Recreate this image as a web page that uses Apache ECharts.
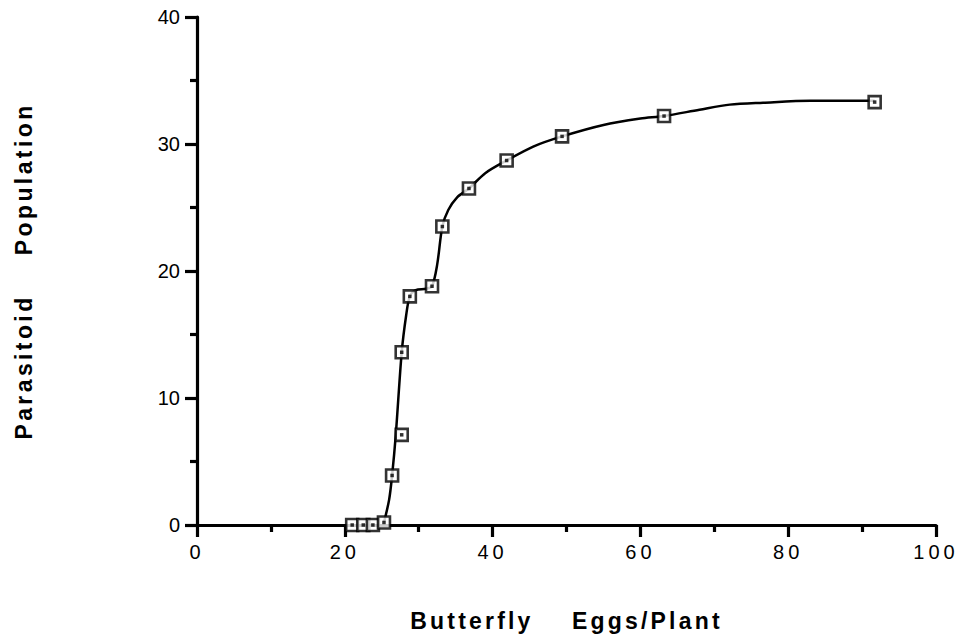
<!DOCTYPE html>
<html>
<head>
<meta charset="utf-8">
<script src="https://cdn.jsdelivr.net/npm/echarts@6/dist/echarts.min.js"></script>
<style>html,body{margin:0;padding:0;background:#fff}#c{width:961px;height:637px}</style>
</head>
<body>
<div id="c"></div>
<script>
// Observed data points (Butterfly eggs/plant, Parasitoid population)
var eggs = [21.0, 22.5, 23.8, 25.3, 26.4, 27.7, 27.7, 28.8, 31.8, 33.2, 36.8, 41.9, 49.4, 63.2, 91.7];
var parasitoids = [0, 0, 0, 0.2, 3.9, 7.1, 13.6, 18.0, 18.8, 23.5, 26.5, 28.7, 30.6, 32.2, 33.3];
// Fitted curve
var curveX = [25.3, 26.0, 26.4, 26.9, 27.7, 28.3, 28.8, 29.6, 31.0, 31.8, 32.5, 33.2, 34.0, 35.2, 36.8, 39.0, 41.9, 45.5, 49.4, 55.0, 60.0, 63.2, 68.0, 72.1, 76.6, 83.0, 91.7];
var curveY = [0.2, 2.0, 3.9, 7.1, 13.6, 16.5, 18.0, 18.5, 18.6, 18.8, 20.5, 23.5, 24.8, 25.8, 26.5, 27.7, 28.7, 29.8, 30.6, 31.5, 32.0, 32.2, 32.7, 33.1, 33.25, 33.4, 33.4];
var xTicks = [0, 20, 40, 60, 80, 100];
var yTicks = [0, 10, 20, 30, 40];
var xTitle = 'Butterfly    Eggs/Plant';
var yTitle = 'Parasitoid    Population';

var pts = eggs.map(function (x, i) { return [x, parasitoids[i]]; });
var curve = curveX.map(function (x, i) { return [x, curveY[i]]; });

var FONT = 'Liberation Sans, Arial, sans-serif';
var chart = echarts.init(document.getElementById('c'), null, { renderer: 'svg' });
var lw = 3.2;
chart.setOption({
  animation: false,
  backgroundColor: '#fff',
  grid: { left: 197, right: 25, top: 17, bottom: 112, containLabel: false },
  xAxis: {
    type: 'value', min: xTicks[0], max: xTicks[xTicks.length - 1], interval: 20,
    axisLine: { show: true, onZero: false, lineStyle: { color: '#000', width: lw } },
    axisTick: { show: true, length: 12, lineStyle: { color: '#000', width: lw } },
    minorTick: { show: true, splitNumber: 2, length: 7, lineStyle: { color: '#000', width: lw } },
    splitLine: { show: false },
    axisLabel: { color: '#000', fontSize: 20, fontFamily: FONT, margin: 17 },
    name: xTitle, nameLocation: 'middle', nameGap: 84,
    nameTextStyle: { color: '#000', fontSize: 23, fontWeight: 'bold', fontFamily: FONT }
  },
  yAxis: {
    type: 'value', min: yTicks[0], max: yTicks[yTicks.length - 1], interval: 10,
    axisLine: { show: true, onZero: false, lineStyle: { color: '#000', width: lw } },
    axisTick: { show: true, length: 12, lineStyle: { color: '#000', width: lw } },
    minorTick: { show: true, splitNumber: 2, length: 7, lineStyle: { color: '#000', width: lw } },
    splitLine: { show: false },
    axisLabel: { color: '#000', fontSize: 20, fontFamily: FONT, margin: 17 },
    name: yTitle, nameLocation: 'middle', nameGap: 162, nameRotate: 90,
    nameTextStyle: { color: '#000', fontSize: 23, fontWeight: 'bold', fontFamily: FONT }
  },
  series: [
    { type: 'line', data: curve, smooth: 0.3, symbol: 'none', lineStyle: { color: '#000', width: 2.5 }, z: 2 },
    { type: 'scatter', data: pts, symbol: 'rect', symbolSize: 12,
      itemStyle: { color: '#fff', borderColor: '#000', borderWidth: 2.6 }, z: 3 },
    { type: 'scatter', data: pts, symbol: 'rect', symbolSize: 3.5,
      itemStyle: { color: '#000' }, z: 4 }
  ]
});

function textY(t) {
  var y = 0;
  var tr = t.getAttribute('transform') || '';
  var m = tr.match(/matrix\(([^)]+)\)/);
  if (m) { var p = m[1].split(/[ ,]+/).map(Number); y += p[5] || 0; }
  var tm = tr.match(/translate\(([^)]+)\)/);
  if (tm) { var q = tm[1].split(/[ ,]+/).map(Number); y += q[1] || 0; }
  y += parseFloat(t.getAttribute('y') || '0');
  return y;
}
function spaceText() {
  var texts = document.querySelectorAll('#c svg text');
  texts.forEach(function (t) {
    var s = t.textContent.trim();
    if (s === xTitle) t.setAttribute('letter-spacing', '3.2');
    else if (s === yTitle) t.setAttribute('letter-spacing', '3.4');
    else if (xTicks.indexOf(Number(s)) >= 0 && textY(t) > 530) {
      t.setAttribute('letter-spacing', '4');
      t.style.letterSpacing = '4px';
    }
  });
}
spaceText();
chart.on('finished', spaceText);
setTimeout(spaceText, 50);
</script>
</body>
</html>
